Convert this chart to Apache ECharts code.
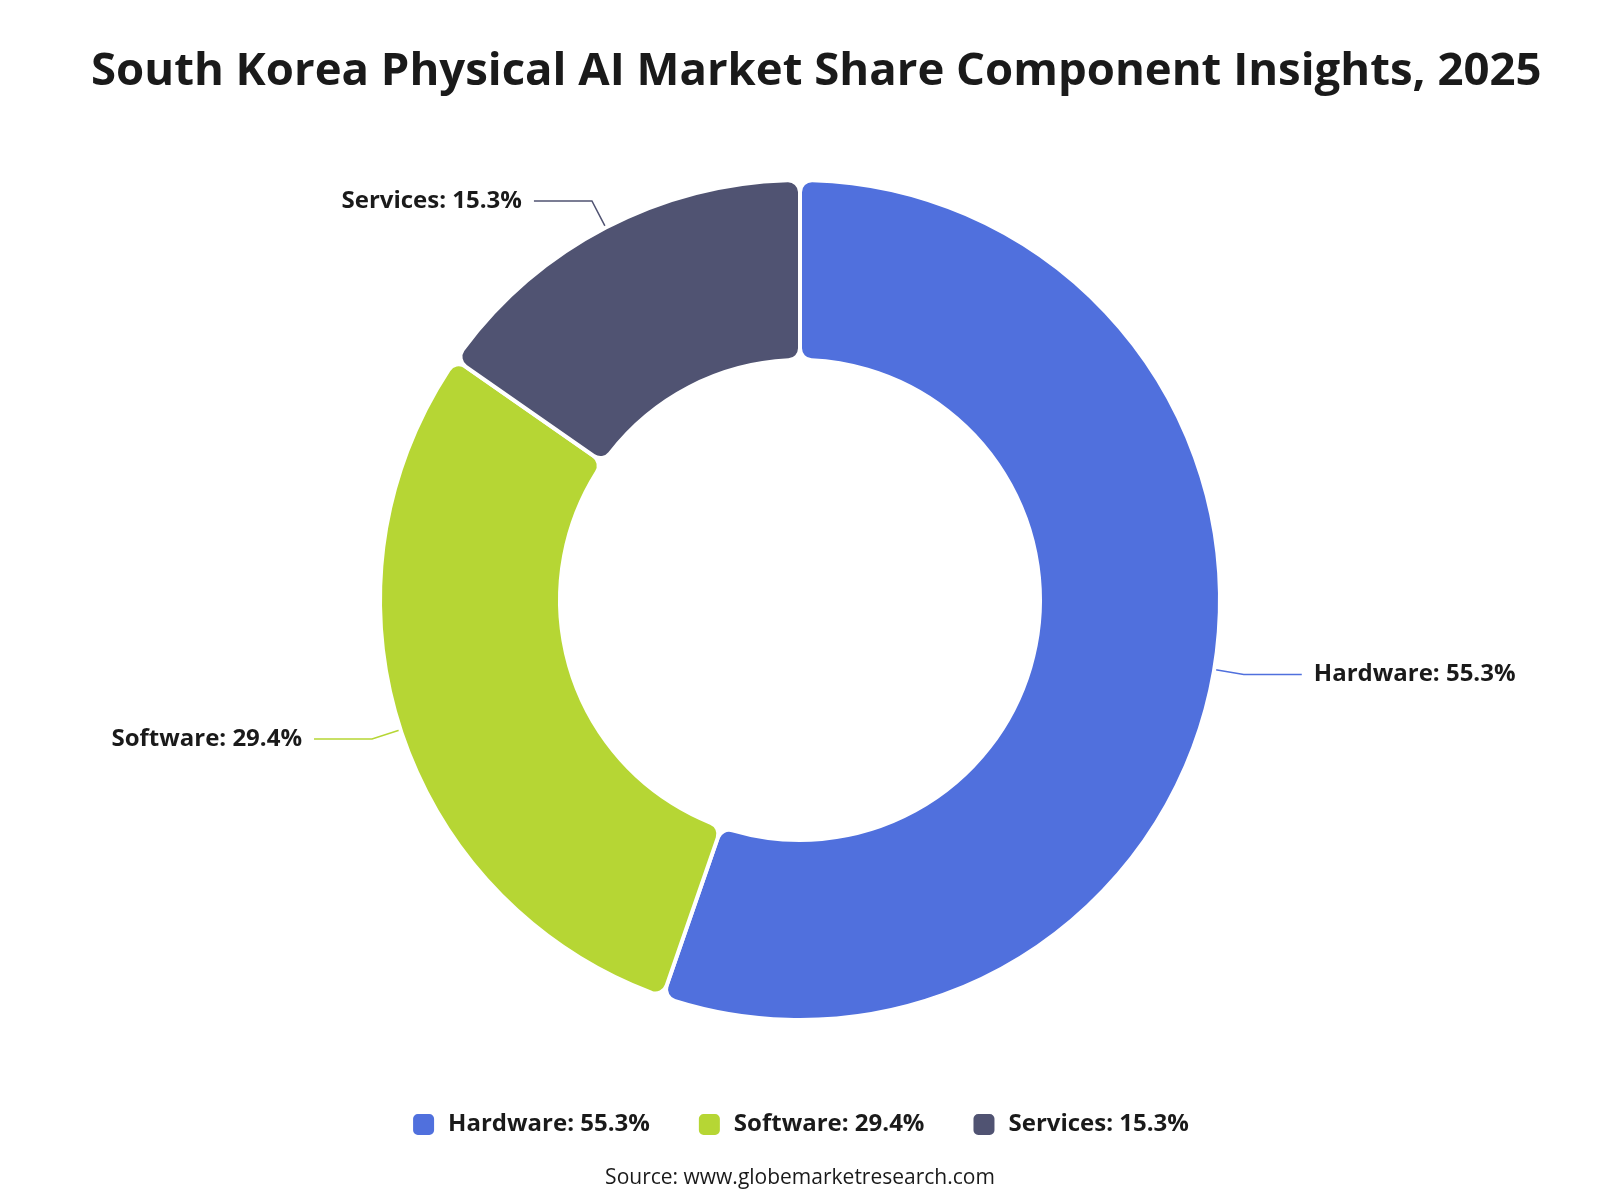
<!DOCTYPE html>
<html>
<head>
<meta charset="utf-8">
<title>South Korea Physical AI Market Share</title>
<script src="https://cdn.jsdelivr.net/npm/echarts@6/dist/echarts.min.js"></script>
<style>
  html, body { margin: 0; padding: 0; background: #fff; }
  #main { width: 1600px; height: 1200px; }
</style>
</head>
<body>
<div id="main"></div>
<script>
// component names and their share (%)
const categories = ['Hardware', 'Software', 'Services'];
const shares = [55.3, 29.4, 15.3];
const colors = ['#5070dd', '#b6d634', '#505372'];

const FONT = '"Open Sans", "Noto Sans", sans-serif';

const pieData = categories.map((name, i) => ({
  name: name,
  value: shares[i],
  itemStyle: { color: colors[i] }
}));

const chart = echarts.init(document.getElementById('main'));

const option = {
  backgroundColor: '#fff',
  animation: false,
  title: [
    {
      text: 'South Korea Physical AI Market Share Component Insights, 2025',
      left: 86,
      top: 44,
      textStyle: { fontFamily: FONT, fontSize: 45.5, fontWeight: 'bold', color: '#1a1a1a' }
    },
    {
      text: 'Source: www.globemarketresearch.com',
      left: 'center',
      top: 1163,
      textStyle: { fontFamily: FONT, fontSize: 21, fontWeight: 'normal', color: '#1a1a1a' }
    }
  ],
  legend: {
    bottom: 58,
    left: 'center',
    itemWidth: 23,
    itemHeight: 23,
    itemGap: 47,
    icon: 'roundRect',
    formatter: name => name + ': ' + shares[categories.indexOf(name)] + '%',
    textStyle: {
      fontFamily: FONT, fontSize: 24, fontWeight: 'bold', color: '#1a1a1a',
      padding: [0, 0, 0, 8]
    }
  },
  series: [
    {
      type: 'pie',
      center: [800, 600],
      radius: [240, 420],
      startAngle: 90,
      clockwise: true,
      avoidLabelOverlap: true,
      itemStyle: { borderColor: '#fff', borderWidth: 4, borderRadius: 12 },
      label: {
        show: true,
        formatter: p => p.name + ': ' + p.value + '%',
        fontFamily: FONT,
        fontSize: 24,
        fontWeight: 'bold',
        color: '#1a1a1a',
        distanceToLabelLine: 12
      },
      labelLine: { show: true, length: 30, length2: 58, lineStyle: { width: 1.5 } },
      data: pieData
    }
  ]
};

chart.setOption(option);
</script>
</body>
</html>
